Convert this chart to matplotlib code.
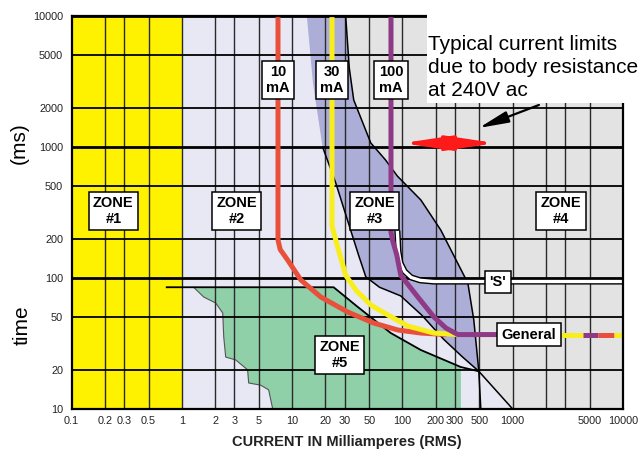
import matplotlib
matplotlib.use('Agg')
import matplotlib.pyplot as plt
from matplotlib.patches import Rectangle, FancyArrowPatch
from matplotlib.ticker import NullLocator

PLAIN = ['Liberation Sans', 'DejaVu Sans']

# axis ticks / grid
x_ticks = [0.1, 0.2, 0.3, 0.5, 1, 2, 3, 5, 10, 20, 30, 50, 100, 200, 300, 500, 1000, 5000, 10000]
x_labels = ['0.1', '0.2', '0.3', '0.5', '1', '2', '3', '5', '10', '20', '30', '50', '100',
            '200', '300', '500', '1000', '5000', '10000']
x_grid = [0.2, 0.3, 0.5, 1, 2, 3, 5, 10, 20, 30, 50, 100, 200, 300, 500, 1000, 2000, 3000, 5000]
y_ticks = [10, 20, 50, 100, 200, 500, 1000, 2000, 5000, 10000]
y_heavy = [10, 100, 1000, 10000]

# zone boundary curves (current mA, time ms)
left_x = [13.6, 15.5, 18.9, 24.9, 33, 40, 46.6, 62, 96.6, 150, 237, 350, 493, 1000]
left_y = [10000, 3000, 1000, 530, 250, 150, 102, 85, 73, 52, 34, 25, 19.4, 10]
right_x = [30.6, 33, 36.2, 51.7, 70, 90, 147, 223, 275, 392, 444, 493, 514]
right_y = [10000, 4000, 2285, 1073, 800, 600, 394, 232, 164, 91.6, 47.8, 19.4, 10]

# zone 5 outline
z5_top_x = [1.28, 23.8, 39.4, 78.5, 147, 339]
z5_top_y = [85, 85, 60.1, 38, 28.2, 20.9]
z5_edge_x = [6.67, 6.13, 5.19, 4.04, 3.95, 3.08, 2.5, 2.4, 2.35, 2.03, 1.58, 1.28]
z5_edge_y = [10, 14, 15.2, 15.8, 19.9, 23.7, 24.9, 35.5, 54.1, 64.4, 71.6, 85]
z5_line_x = [0.73, 23.8, 39.4, 78.5, 147, 339, 493]
z5_line_y = [85, 85, 60.1, 38, 28.2, 20.9, 19.4]

# RCD trip curves
red_x = [7.45, 7.45, 7.8, 9.12, 12, 18.2, 31.9, 55, 90.8, 147, 250]
red_y = [10000, 195, 165, 137, 96.6, 71.6, 55, 45.3, 40.1, 38, 37]
yel_x = [23, 23, 26, 30.6, 37.8, 51.7, 73.8, 112, 193, 318]
yel_y = [10000, 250, 170, 105, 81, 62.2, 52.2, 43, 38, 37]
pur_x = [78.8, 78.8, 82, 88.9, 96.6, 138, 193, 248, 318, 1403]
pur_y = [10000, 224, 190, 150, 105, 71.6, 50.4, 41.5, 37, 37]
s_x = [90, 92, 96, 105, 120, 145, 193, 10000]
s_y = [230, 160, 130, 112, 101, 96, 94, 94]
general_t = 37
general_segs = [(2737, 4335, '#F7EE1C'), (4335, 5930, '#8E3A86'),
                (5930, 8280, '#E8503C'), (8280, 10000, '#F7EE1C')]

W, H = 641, 454
fig = plt.figure(figsize=(W / 100, H / 100), dpi=100)
ax = fig.add_axes([71.5 / W, (H - 409) / H, (623 - 71.5) / W, (409 - 16) / H])
ax.set_xscale('log')
ax.set_yscale('log')
ax.set_xlim(0.1, 10000)
ax.set_ylim(10, 10000)

# zone fills
ax.fill([0.1, 1, 1, 0.1], [10, 10, 10000, 10000], color='#FFF200', lw=0, zorder=0.1)
ax.fill([1, 10000, 10000, 1], [10, 10, 10000, 10000], color='#E8E8F4', lw=0, zorder=0.1)
gx = right_x[:-1] + [1000, 10000, 10000]
gy = right_y[:-1] + [10, 10, 10000]
ax.fill(gx, gy, color='#E3E3E3', lw=0, zorder=0.2)
ax.fill(left_x[:-1] + right_x[-2::-1], left_y[:-1] + right_y[-2::-1],
        color='#ADAED8', lw=0, zorder=0.3)
ax.fill(z5_top_x + [339] + z5_edge_x, z5_top_y + [10] + z5_edge_y,
        color='#8FD0A8', lw=0, zorder=0.4)
ax.plot(z5_edge_x, z5_edge_y, color='#555555', lw=0.8, zorder=0.5)

# grid
for v in x_grid:
    ax.axvline(v, color='#2a2a2a', lw=1.0, zorder=1)
for v in y_ticks:
    ax.axhline(v, color='black', lw=2.0 if v in y_heavy else 1.3, zorder=1.1)

# boundary lines
ax.plot(right_x, right_y, color='black', lw=1.1, zorder=1.5)
ax.plot(left_x[2:], left_y[2:], color='black', lw=1.1, zorder=1.5)
ax.plot(z5_line_x, z5_line_y, color='black', lw=1.3, zorder=1.5)

# trip curves
ax.plot(s_x, s_y, color='black', lw=4.4, zorder=2, solid_capstyle='butt')
ax.plot(s_x, s_y, color='white', lw=2.4, zorder=2.1, solid_capstyle='butt')
ax.plot(red_x, red_y, color='#E8503C', lw=3.6, zorder=2.2, solid_capstyle='butt')
ax.plot(yel_x, yel_y, color='#F7EE1C', lw=3.6, zorder=2.3, solid_capstyle='butt')
ax.plot(pur_x, pur_y, color='#8E3A86', lw=3.6, zorder=2.4, solid_capstyle='butt')
for a, b, c in general_segs:
    ax.plot([a, b], [general_t, general_t], color=c, lw=3.6, zorder=2.4, solid_capstyle='butt')


def label(x, y, s, fs=10.5, pad=0.3):
    ax.text(x, y, s, ha='center', va='center', fontsize=fs, fontweight='bold',
            family=PLAIN, linespacing=1.15, zorder=6,
            bbox=dict(boxstyle='square,pad=%s' % pad, fc='white', ec='black', lw=1.1))


label(0.24, 325, 'ZONE\n#1')
label(3.14, 325, 'ZONE\n#2')
label(56.2, 325, 'ZONE\n#3')
label(2737, 325, 'ZONE\n#4')
label(27, 25.8, 'ZONE\n#5')
label(7.45, 3245, '10\nmA')
label(23, 3245, '30\nmA')
label(78.8, 3245, '100\nmA')
label(735, 93.3, "'S'")
label(1403, general_t, 'General')

# arrows
ax.add_patch(FancyArrowPatch((100, 1070), (700, 1070),
                             arrowstyle='<|-|>,head_length=3.0,head_width=0.45',
                             mutation_scale=10, color='#FF1A1A', lw=2.4,
                             shrinkA=0, shrinkB=0, zorder=7))
ax.add_patch(FancyArrowPatch((1729, 2093), (493, 1397),
                             arrowstyle='-|>,head_length=1.8,head_width=0.35',
                             mutation_scale=10, color='black', lw=1.6,
                             shrinkA=0, shrinkB=0, zorder=7))

# ticks
ax.set_xticks(x_ticks)
ax.set_xticklabels(x_labels)
ax.set_yticks(y_ticks)
ax.set_yticklabels([str(v) for v in y_ticks])
ax.xaxis.set_minor_locator(NullLocator())
ax.yaxis.set_minor_locator(NullLocator())
ax.tick_params(length=0, labelsize=7.8, labelcolor='#222222')
ax.tick_params(axis='x', pad=5)
ax.tick_params(axis='y', pad=6)
for t in ax.get_xticklabels() + ax.get_yticklabels():
    t.set_family(PLAIN)
for s in ax.spines.values():
    s.set_linewidth(1.6)
    s.set_zorder(3)

# white panel behind the note
fig.add_artist(Rectangle((427 / W, 1 - 103 / H), 1, 103 / H, transform=fig.transFigure,
                         fc='white', ec='none', zorder=5))
fig.text(428 / W, 1 - 35 / H, 'Typical current limits\ndue to body resistance\nat 240V ac',
         ha='left', va='top', fontsize=15, family=PLAIN, linespacing=1.27, zorder=6)

fig.text(19 / W, 1 - 143 / H, '(ms)', rotation=90, ha='center', va='center',
         fontsize=15, family=PLAIN)
fig.text(22 / W, 1 - 325 / H, 'time', rotation=90, ha='center', va='center',
         fontsize=15, family=PLAIN)
fig.text(347 / W, 1 - 442 / H, 'CURRENT IN Milliamperes (RMS)', ha='center', va='center',
         fontsize=10.5, fontweight='bold', family=PLAIN, color='#222222')

fig.savefig('out.png', dpi=100, facecolor='white')
